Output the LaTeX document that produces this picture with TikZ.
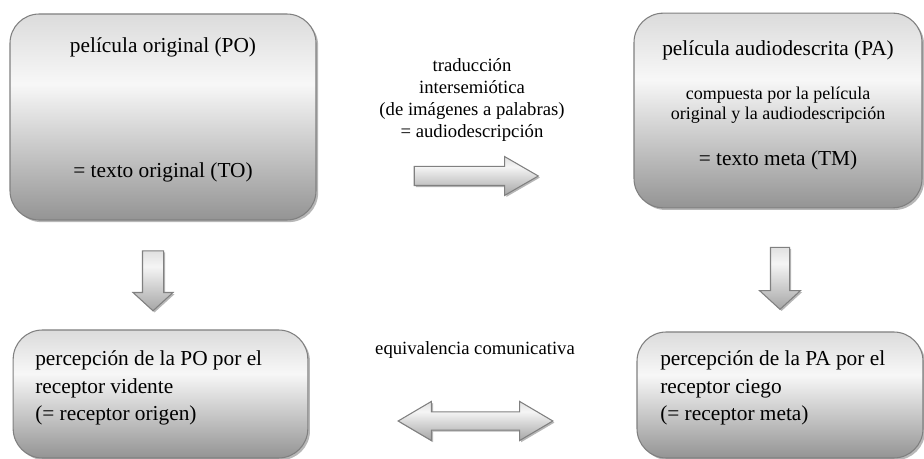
\documentclass[tikz,border=0pt]{standalone}
\usepackage{fontspec}
\setmainfont{Liberation Serif}
\usetikzlibrary{shapes.arrows,shadows}
\pgfdeclareverticalshading{boxgray}{100bp}{color(0bp)=(black!42); color(25bp)=(black!42); color(58bp)=(black!3); color(75bp)=(black!14); color(100bp)=(black!14)}
\pgfdeclareverticalshading{arrgray}{100bp}{color(0bp)=(black!35); color(25bp)=(black!35); color(62bp)=(black!4); color(75bp)=(black!12); color(100bp)=(black!12)}

\begin{document}
\begin{tikzpicture}[x=0.75pt,y=-0.75pt,
    box/.style={draw=black!50, line width=0.8pt, rounded corners=22pt, shading=boxgray,
        drop shadow={shadow xshift=1.6pt, shadow yshift=-1.6pt, fill=black!40, opacity=0.7}},
    arr/.style={draw=black!50, line width=0.8pt, shading=arrgray,
        drop shadow={shadow xshift=1.2pt, shadow yshift=-1.2pt, fill=black!40, opacity=0.7}},
    big/.style={font=\fontsize{16}{20.6}\selectfont},
    small/.style={font=\fontsize{14}{16.3}\selectfont, align=center}]
    \useasboundingbox (0,0) rectangle (924,459);

    \node[box, minimum width=229.5pt, minimum height=154.5pt] (po) at (163,117) {};
    \node[big] (potit) at (163,47) {película original (PO)};
    \node[big] (poto) at (163,172) {= texto original (TO)};

    \node[box, minimum width=216pt, minimum height=146pt] (pa) at (778,110.5) {};
    \node[big] (patit) at (778,50) {película audiodescrita (PA)};
    \node[small, font=\fontsize{13.5}{15}\selectfont] (pacomp) at (778,105) {compuesta por la película\\original y la audiodescripción};
    \node[big] (patm) at (778,160) {= texto meta (TM)};

    \node[box, minimum width=221pt, minimum height=96pt] (vid) at (160.5,394) {};
    \node[big, align=left, anchor=west, inner xsep=0pt] (vidtxt) at (35,388) {percepción de la PO por el\\receptor vidente\\(= receptor origen)};

    \node[box, minimum width=214.5pt, minimum height=94.5pt] (cie) at (780,395) {};
    \node[big, align=left, anchor=west, inner xsep=0pt] (cietxt) at (660,388) {percepción de la PA por el\\receptor ciego\\(= receptor meta)};

    \node[arr, single arrow, inner sep=6.75pt, minimum height=93pt,
        single arrow head extend=7.4pt, single arrow tip angle=60] (trad) at (468,176) {};
    \node[small] (tradtxt) at (472,100) {traducción\\intersemiótica\\(de imágenes a palabras)\\= audiodescripción};

    \node[arr, single arrow, shape border rotate=270, inner sep=7.5pt, minimum height=45pt,
        single arrow head extend=7.1pt, single arrow tip angle=95] (podown) at (153,276) {};
    \node[arr, single arrow, shape border rotate=270, inner sep=6.75pt, minimum height=46.5pt,
        single arrow head extend=8.2pt, single arrow tip angle=95] (padown) at (780,274) {};

    \node[arr, double arrow, inner sep=6.4pt, minimum height=116pt,
        double arrow head extend=7.9pt, double arrow tip angle=61] (equiv) at (475.5,421) {};
    \node[small] (equivtxt) at (475,350) {equivalencia comunicativa};
\end{tikzpicture}
\end{document}
